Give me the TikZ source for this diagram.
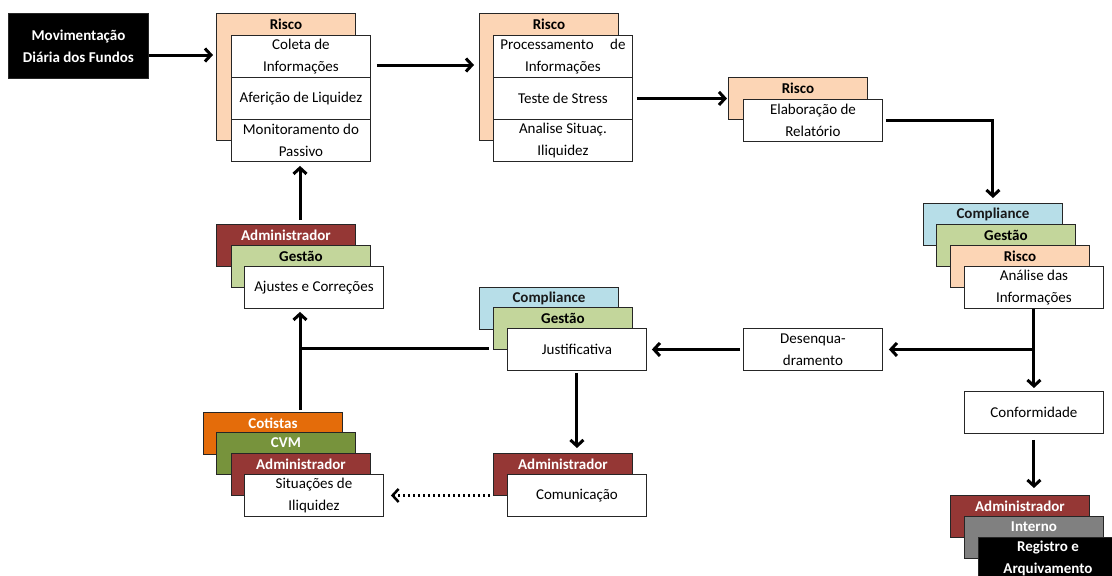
\documentclass[tikz,border=0pt]{standalone}
\usepackage{fontspec}
\setmainfont{Carlito}
\usetikzlibrary{arrows.meta}
\definecolor{peach}{HTML}{FCD5B5}
\definecolor{cblue}{HTML}{B7DEE8}
\definecolor{cgreen}{HTML}{C3D69B}
\definecolor{cred}{HTML}{953735}
\definecolor{corange}{HTML}{E46C0A}
\definecolor{cvm}{HTML}{77933C}
\definecolor{cgrey}{HTML}{808080}
\begin{document}
\begin{tikzpicture}[x=1pt,y=-1pt,
  box/.style={draw=black!85, line width=0.9pt, minimum width=139pt, minimum height=42pt,
    anchor=north west, inner sep=0pt, align=center, font=\fontsize{15}{22}\selectfont},
  ttl/.style={font=\fontsize{15}{22}\selectfont\bfseries, inner sep=0pt},
  arr/.style={line width=3pt, -{Straight Barb[length=6pt,width=13pt]}},
  plain/.style={line width=3pt},
  dotarr/.style={line width=2.5pt, dash pattern=on 2.5pt off 2.5pt, -{Straight Barb[length=6pt,width=13pt]}}
]
\useasboundingbox (0,0) rectangle (1112,576);
\clip (0,0) rectangle (1112,576);

% Movimentacao
\node[box, fill=black, text=white, font=\fontsize{15}{22}\selectfont\bfseries, minimum width=140pt, minimum height=65pt] (mov) at (8,13) {Movimentação\\Diária dos Fundos};

% Risco 1
\node[box, fill=peach, minimum height=127pt] (r1bg) at (216,13) {};
\node[ttl] (r1t) at ([yshift=-11pt]r1bg.north) {Risco};
\node[box, fill=white] (r1a) at (231,35) {Coleta de\\Informações};
\node[box, fill=white] (r1b) at (231,77) {Aferição de Liquidez};
\node[box, fill=white] (r1c) at (231,119) {Monitoramento do\\Passivo};

% Risco 2
\node[box, fill=peach, minimum height=127pt] (r2bg) at (479,13) {};
\node[ttl] (r2t) at ([yshift=-11pt]r2bg.north) {Risco};
\node[box, fill=white] (r2a) at (493,35) {Processamento\hspace{1.1em}de\\Informações};
\node[box, fill=white] (r2b) at (493,77) {Teste de Stress};
\node[box, fill=white] (r2c) at (493,119) {Analise Situaç.\\Iliquidez};

% Risco 3
\node[box, fill=peach] (r3bg) at (728,77) {};
\node[ttl] (r3t) at ([yshift=-11pt]r3bg.north) {Risco};
\node[box, fill=white] (r3w) at (743,99) {Elaboração de\\Relatório};

% Right stack
\node[box, fill=cblue] (rc) at (923,203) {};
\node[ttl, text=black!90] (rct) at ([yshift=-11pt]rc.north) {Compliance};
\node[box, fill=cgreen] (rg) at (936,224) {};
\node[ttl] (rgt) at ([yshift=-11pt]rg.north) {Gestão};
\node[box, fill=peach] (rr) at (950,245) {};
\node[ttl] (rrt) at ([yshift=-11pt]rr.north) {Risco};
\node[box, fill=white] (ra) at (964,266) {Análise das\\Informações};

% Conformidade
\node[box, fill=white] (conf) at (964,391) {Conformidade};

% Bottom right stack
\node[box, fill=cred] (ba) at (950,495) {};
\node[ttl, text=white] (bat) at ([yshift=-11pt]ba.north) {Administrador};
\node[box, fill=cgrey] (bi) at (964,516) {};
\node[ttl, text=white] (bit) at ([yshift=-11pt]bi.north) {Interno};
\node[box, fill=black, text=white, font=\fontsize{15}{22}\selectfont\bfseries] (br) at (978,537) {Registro e\\Arquivamento};

% Ajustes stack
\node[box, fill=cred] (aa) at (216,224) {};
\node[ttl, text=white] (aat) at ([yshift=-11pt]aa.north) {Administrador};
\node[box, fill=cgreen] (ag) at (231,245) {};
\node[ttl] (agt) at ([yshift=-11pt]ag.north) {Gestão};
\node[box, fill=white] (aw) at (244,266) {Ajustes e Correções};

% Justificativa stack
\node[box, fill=cblue] (jc) at (479,287) {};
\node[ttl, text=black!90] (jct) at ([yshift=-11pt]jc.north) {Compliance};
\node[box, fill=cgreen] (jg) at (493,307) {};
\node[ttl] (jgt) at ([yshift=-11pt]jg.north) {Gestão};
\node[box, fill=white] (jw) at (507,328) {Justificativa};

% Desenquadramento
\node[box, fill=white] (dw) at (743,328) {Desenqua-\\dramento};

% Comunicacao stack
\node[box, fill=cred] (ca) at (493,453) {};
\node[ttl, text=white] (cat) at ([yshift=-11pt]ca.north) {Administrador};
\node[box, fill=white] (cw) at (507,474) {Comunicação};

% Situacoes stack
\node[box, fill=corange] (sc) at (203,412) {};
\node[ttl, text=white] (sct) at ([yshift=-11pt]sc.north) {Cotistas};
\node[box, fill=cvm] (sv) at (216,432) {};
\node[ttl, text=white] (svt) at ([yshift=-11pt]sv.north) {CVM};
\node[box, fill=cred] (sa) at (231,453) {};
\node[ttl, text=white] (sat) at ([yshift=-11pt]sa.north) {Administrador};
\node[box, fill=white] (sw) at (244,474) {Situações de\\Iliquidez};

% Connectors
\coordinate (jn) at (300,348);
\draw[arr, shorten >=3pt] (mov.east |- 0,55) -- (r1bg.west |- 0,55);
\draw[arr, shorten <=6pt, shorten >=5pt] (r1a.east |- 0,65) -- (r2bg.west |- 0,65);
\draw[arr, shorten <=4pt, shorten >=1pt] (r2b.east) -- (r3bg.west |- r2b.east);
\draw[arr, shorten >=5pt] ([xshift=3pt]r3w.east |- 0,120) -| (rc.north);
\draw[arr, shorten >=3pt] (ra.south) -- (conf.north);
\draw[arr, shorten >=6pt] (ra.south |- dw.east) -- (dw.east);
\draw[arr, shorten <=6pt, shorten >=7pt] (conf.south) -- (ba.north -| conf.south);
\draw[arr, shorten <=3pt, shorten >=5pt] (dw.west) -- (jw.east);
\draw[arr, shorten <=2pt, shorten >=5pt] (jw.south) -- (jw.south |- ca.north);
\draw[dotarr, shorten <=3pt, shorten >=7pt] (ca.west |- cw.west) -- (sw.east);
\draw[arr, shorten <=2pt, shorten >=3pt] (jn |- sc.north) -- (jn |- aw.south);
\draw[plain, shorten >=4pt] (jn) -- (jg.west |- jn);
\draw[arr, shorten <=4pt, shorten >=4pt] (jn |- aa.north) -- (jn |- r1c.south);
\end{tikzpicture}
\end{document}
